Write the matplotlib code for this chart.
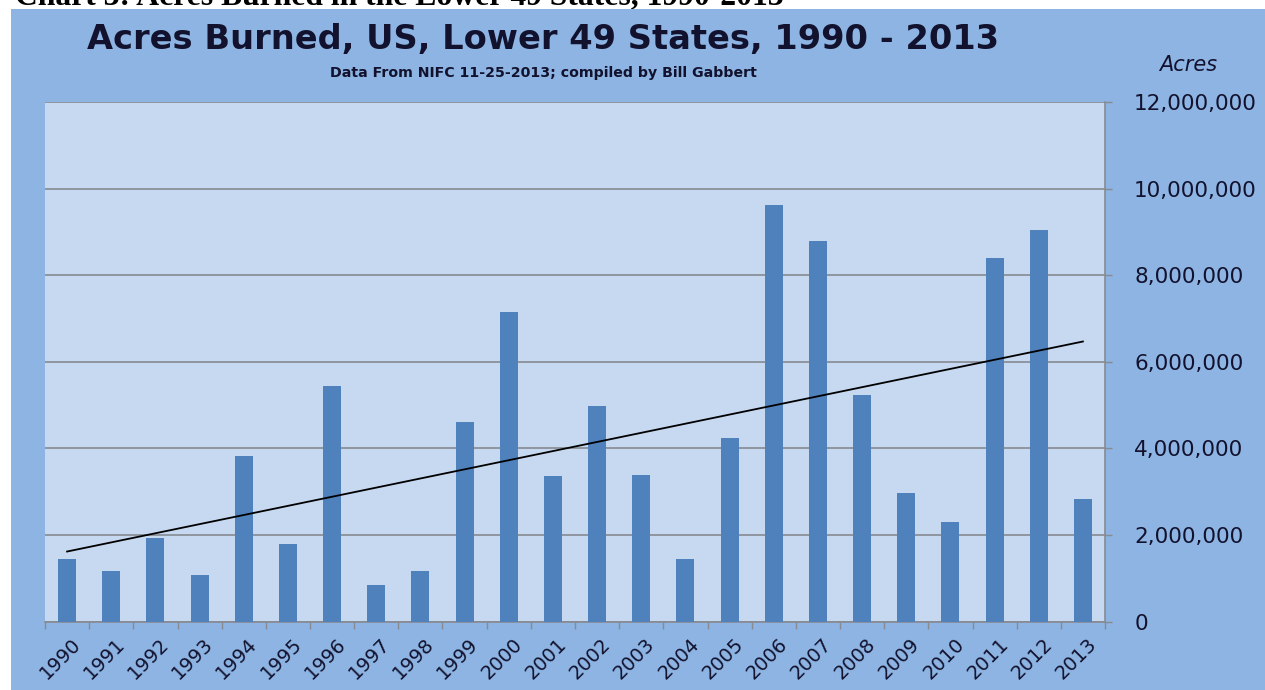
import numpy as np
import matplotlib
matplotlib.use("Agg")
import matplotlib.pyplot as plt
import matplotlib.transforms as mtransforms
from matplotlib.patches import Rectangle
from matplotlib.ticker import FuncFormatter, FixedLocator

# acres burned per year (millions)
years = [str(y) for y in range(1990, 2014)]
acres_m = [1.44, 1.18, 1.93, 1.07, 3.82, 1.79, 5.45, 0.84, 1.18, 4.60,
           7.16, 3.36, 4.98, 3.39, 1.44, 4.25, 9.62, 8.79, 5.24, 2.97,
           2.30, 8.40, 9.05, 2.83]
yticks = [0, 2000000, 4000000, 6000000, 8000000, 10000000, 12000000]

acres = np.array(acres_m) * 1e6
x = np.arange(len(years))

outer_bg = '#8db4e2'
plot_bg = '#c6d9f1'
bar_col = '#4f81bd'
grid_col = '#878a90'
txt_col = '#12122e'

fig = plt.figure(figsize=(12.65, 6.9), dpi=100, facecolor='white')

# cut-off document caption behind the chart
fig.text(15 / 1265, 1 - 4 / 690, 'Chart 3: Acres Burned in the Lower 49 States, 1990-2013',
         family='Liberation Serif', weight='bold', fontsize=22.8, va='baseline', ha='left',
         color='black', zorder=0.5)
fig.patches.append(Rectangle((11 / 1265, 0), 1, 1 - 9 / 690, transform=fig.transFigure,
                             facecolor=outer_bg, edgecolor='none', zorder=1))

ax = fig.add_axes([45 / 1265, 1 - 621.7 / 690, 1060 / 1265, (621.7 - 102) / 690])
ax.set_zorder(2)
ax.set_facecolor(plot_bg)

ax.bar(x, acres, width=0.41, color=bar_col, zorder=3)

# linear trendline like excel
k, b = np.polyfit(x, acres, 1)
ax.plot([x[0], x[-1]], [k * x[0] + b, k * x[-1] + b], color='black', lw=1.3, zorder=4)

ax.set_xlim(-0.5, len(years) - 0.5)
ax.set_ylim(0, 12000000)

ax.yaxis.tick_right()
ax.set_yticks(yticks)
ax.yaxis.set_major_formatter(FuncFormatter(lambda v, p: f'{int(v):,}'))
ax.tick_params(axis='y', which='major', length=5, width=1, color=grid_col, pad=16,
               labelsize=15.5, labelcolor=txt_col)
ax.grid(axis='y', color=grid_col, lw=1.2, zorder=1)

ax.set_xticks(x)
ax.set_xticklabels(years, rotation=45, ha='right', rotation_mode='anchor')
ax.xaxis.set_minor_locator(FixedLocator(np.arange(-0.5, len(years), 1)))
ax.tick_params(axis='x', which='major', length=0, pad=9, labelsize=14, labelcolor=txt_col)
ax.tick_params(axis='x', which='minor', length=5, width=1, color=grid_col)
shift = mtransforms.ScaledTranslation(4 / 100, 0, fig.dpi_scale_trans)
for lab in ax.get_xticklabels():
    lab.set_transform(lab.get_transform() + shift)

for s in ['top', 'left']:
    ax.spines[s].set_visible(False)
ax.spines['bottom'].set_color(grid_col)
ax.spines['bottom'].set_linewidth(1.2)
ax.spines['right'].set_color(grid_col)
ax.spines['right'].set_linewidth(1.2)

fig.text(543 / 1265, 1 - 40 / 690, 'Acres Burned, US, Lower 49 States, 1990 - 2013',
         weight='bold', fontsize=24.2, ha='center', va='center', color=txt_col, zorder=3)
fig.text(543 / 1265, 1 - 73 / 690, 'Data From NIFC 11-25-2013; compiled by Bill Gabbert',
         weight='bold', fontsize=10.2, ha='center', va='center', color=txt_col, zorder=3)
fig.text(1188 / 1265, 1 - 65 / 690, 'Acres', style='italic', fontsize=15,
         ha='center', va='center', color=txt_col, zorder=3)

fig.savefig('out.png', dpi=100, facecolor='white')
